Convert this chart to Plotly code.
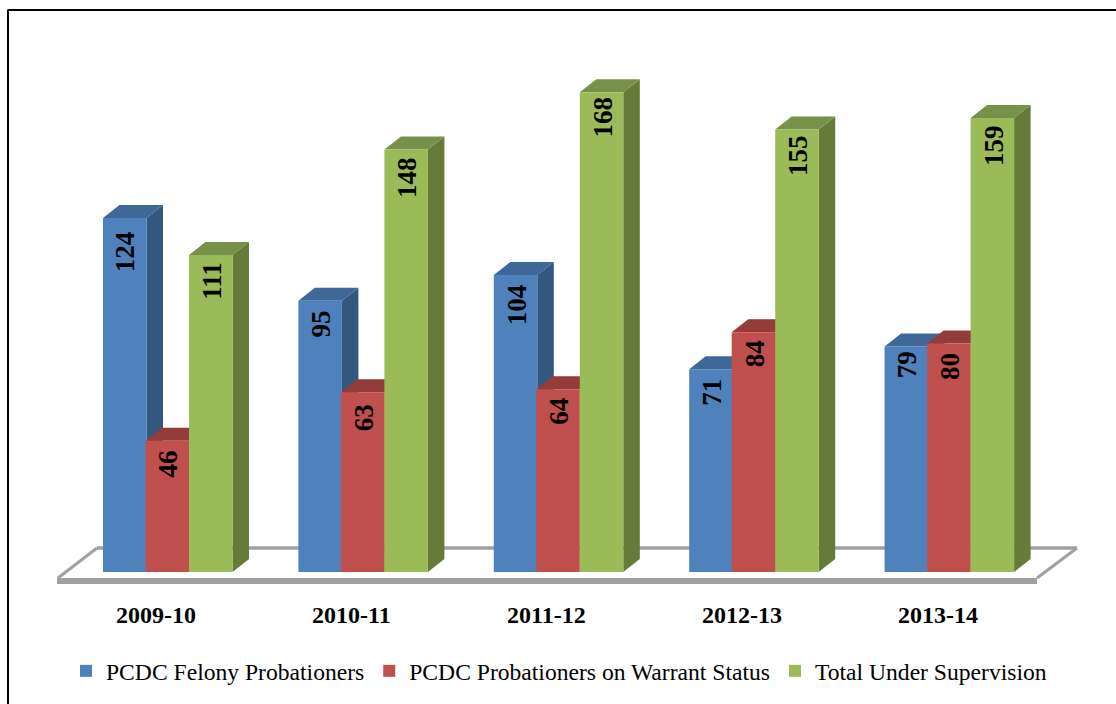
import plotly.graph_objects as go

categories = ["2009-10", "2010-11", "2011-12", "2012-13", "2013-14"]
series_names = ["PCDC Felony Probationers", "PCDC Probationers on Warrant Status", "Total Under Supervision"]
felony = [124, 95, 104, 71, 79]
warrant = [46, 63, 64, 84, 80]
total = [111, 148, 168, 155, 159]

front_colors = ["#4f81bd", "#c0504d", "#9bbb59"]
side_colors = ["#34577f", "#8a3836", "#667a3a"]
top_colors = ["#3f6798", "#933c3a", "#77904a"]

# distance in pixels from the top of each bar to its rotated label
label_gaps = [[13, 10, 9, 9, 5], [10, 12, 9, 8, 9], [7, 8, 4, 5, 7]]

W, H = 1116, 704
PX_X = 195.4
PX_Y = 2.855
X0, Y0 = 156, 572
xr = [(0 - X0) / PX_X, (W - X0) / PX_X]
yr = [(Y0 - H) / PX_Y, Y0 / PX_Y]
bar_w = 43.5 / PX_X
offsets = [(103 - X0) / PX_X, (145.5 - X0) / PX_X, (189 - X0) / PX_X]
dx = 16.5 / PX_X
dy = 13 / PX_Y
xs = list(range(len(categories)))
fig = go.Figure()


def fx(px):
    return (px - X0) / PX_X


def fy(px):
    return (Y0 - px) / PX_Y


floor = [
    ([fx(57), fx(1037)], [fy(581), fy(581)], 6),
    ([fx(97), fx(1077)], [fy(548), fy(548)], 3.5),
    ([fx(58), fx(97)], [fy(578), fy(548)], 3),
    ([fx(1037), fx(1077)], [fy(578), fy(548)], 3),
]
for lx, ly, lw in floor:
    fig.add_trace(go.Scatter(x=lx, y=ly, mode="lines", line=dict(color="#a0a0a0", width=lw),
                             showlegend=False, hoverinfo="skip"))

all_vals = [felony, warrant, total]
for s, vals in enumerate(all_vals):
    sx, sy, tx, ty = [], [], [], []
    for i, v in zip(xs, vals):
        l = i + offsets[s]
        r = l + bar_w
        sx += [r, r + dx, r + dx, r, r, None]
        sy += [0, dy, v + dy, v, 0, None]
        tx += [l, l + dx, r + dx, r, l, None]
        ty += [v, v + dy, v + dy, v, v, None]
    fig.add_trace(go.Scatter(x=sx, y=sy, mode="lines", fill="toself", fillcolor=side_colors[s],
                             line=dict(width=0, color=side_colors[s]), showlegend=False, hoverinfo="skip"))
    fig.add_trace(go.Scatter(x=tx, y=ty, mode="lines", fill="toself", fillcolor=top_colors[s],
                             line=dict(width=0, color=top_colors[s]), showlegend=False, hoverinfo="skip"))

for s, vals in enumerate(all_vals):
    fig.add_trace(go.Bar(
        x=xs, y=vals, name=series_names[s], width=bar_w, offset=offsets[s],
        marker=dict(color=front_colors[s], line=dict(width=0)),
        xaxis="x2", yaxis="y2",
    ))

annotations = [
    dict(x=i, y=fy(615), xref="x", yref="y", text=c, showarrow=False, xanchor="center", yanchor="middle",
         font=dict(family="Liberation Serif", size=24, color="black", weight="bold"))
    for i, c in zip(xs, categories)
]
for s, vals in enumerate(all_vals):
    for i, v, gap in zip(xs, vals, label_gaps[s]):
        annotations.append(dict(
            x=i + offsets[s] + bar_w / 2, y=v, xref="x2", yref="y2", text=str(v), showarrow=False,
            textangle=-90, xanchor="center", yanchor="top", yshift=-gap, xshift=1, borderpad=0, borderwidth=0,
            font=dict(family="Liberation Serif", size=27, color="black", weight="bold"),
        ))

fig.update_layout(
    width=W, height=H, margin=dict(l=0, r=0, t=0, b=0), autosize=False,
    paper_bgcolor="white", plot_bgcolor="white", barmode="overlay",
    xaxis=dict(range=xr, domain=[0, 1], showgrid=False, zeroline=False, showline=False, showticklabels=False, ticks=""),
    yaxis=dict(range=yr, domain=[0, 1], showgrid=False, zeroline=False, showline=False, showticklabels=False, ticks=""),
    xaxis2=dict(range=xr, domain=[0, 1], overlaying="x", anchor="y2", showgrid=False, zeroline=False, showline=False, showticklabels=False, ticks=""),
    yaxis2=dict(range=yr, domain=[0, 1], overlaying="y", anchor="x2", showgrid=False, zeroline=False, showline=False, showticklabels=False, ticks=""),
    legend=dict(orientation="h", x=66 / W, xanchor="left", y=1 - 671 / H, yanchor="middle",
                font=dict(family="Liberation Serif", size=23.6, color="black"),
                bgcolor="rgba(0,0,0,0)", itemclick=False, itemdoubleclick=False),
    shapes=[
        dict(type="line", xref="paper", yref="paper", x0=7.5 / W, x1=1, y0=1 - 10 / H, y1=1 - 10 / H,
             line=dict(color="black", width=2)),
        dict(type="line", xref="paper", yref="paper", x0=8 / W, x1=8 / W, y0=0, y1=1 - 10 / H,
             line=dict(color="black", width=2)),
    ],
    annotations=annotations,
)
fig.write_html("out.html", post_script="document.body.style.margin='0';", config={"displayModeBar": False})
